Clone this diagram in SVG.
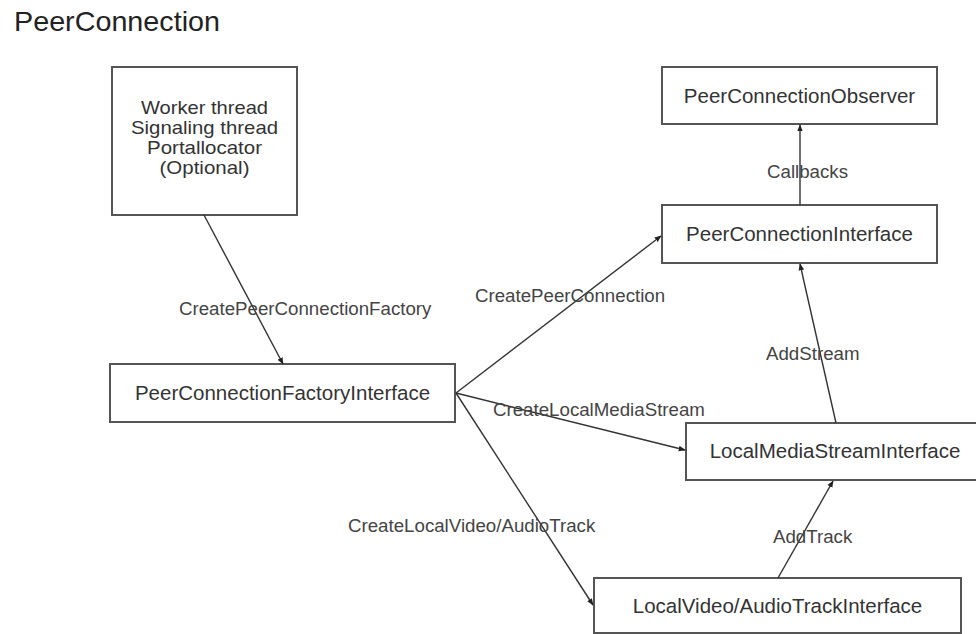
<svg xmlns="http://www.w3.org/2000/svg" width="976" height="634" viewBox="0 0 976 634">
  <defs>
    <marker id="arrow" viewBox="0 0 10 10" refX="9" refY="5" markerWidth="7" markerHeight="7" markerUnits="userSpaceOnUse" orient="auto">
      <path d="M0,1 L10,5 L0,9 Z" fill="#222"/>
    </marker>
    <style>
      .box { fill: #fff; stroke: #555; stroke-width: 2; }
      .node-text { font-family: "Liberation Sans", Arial, sans-serif; font-size: 20.5px; fill: #333; text-anchor: middle; }
      .multi { font-size: 17.8px; }
      .edge { fill: none; stroke: #333; stroke-width: 1.4; marker-end: url(#arrow); }
      .edge-label { font-family: "Liberation Sans", Arial, sans-serif; font-size: 18.7px; fill: #444; }
      .title { font-family: "Liberation Sans", Arial, sans-serif; font-size: 28px; fill: #222; }
    </style>
  </defs>

  <rect width="976" height="634" fill="#fff"/>

  <text class="title" x="14" y="31" textLength="206" lengthAdjust="spacingAndGlyphs">PeerConnection</text>

  <!-- nodes -->
  <g id="threads">
    <rect class="box" x="112" y="67" width="185" height="148"/>
    <text class="node-text multi" x="204.5" y="114" textLength="127" lengthAdjust="spacingAndGlyphs">Worker thread</text>
    <text class="node-text multi" x="204.5" y="134" textLength="147" lengthAdjust="spacingAndGlyphs">Signaling thread</text>
    <text class="node-text multi" x="204.5" y="154" textLength="115" lengthAdjust="spacingAndGlyphs">Portallocator</text>
    <text class="node-text multi" x="204.5" y="174" textLength="90" lengthAdjust="spacingAndGlyphs">(Optional)</text>
  </g>

  <g id="factory">
    <rect class="box" x="110" y="364" width="345" height="58"/>
    <text class="node-text" x="282.5" y="400">PeerConnectionFactoryInterface</text>
  </g>

  <g id="observer">
    <rect class="box" x="662" y="67" width="275" height="57"/>
    <text class="node-text" x="799.5" y="103">PeerConnectionObserver</text>
  </g>

  <g id="peerconnection">
    <rect class="box" x="662" y="205" width="275" height="58"/>
    <text class="node-text" x="799.5" y="241">PeerConnectionInterface</text>
  </g>

  <g id="mediastream">
    <rect class="box" x="686" y="423" width="310" height="57"/>
    <text class="node-text" x="835" y="458">LocalMediaStreamInterface</text>
  </g>

  <g id="track">
    <rect class="box" x="594" y="578" width="367" height="55"/>
    <text class="node-text" x="777.5" y="612.5">LocalVideo/AudioTrackInterface</text>
  </g>

  <!-- connectors -->
  <g id="connectors">
    <line class="edge" x1="204" y1="215" x2="283" y2="364"/>
    <line class="edge" x1="456" y1="393" x2="661" y2="236"/>
    <line class="edge" x1="456" y1="393" x2="685" y2="450"/>
    <line class="edge" x1="456" y1="393" x2="593" y2="605"/>
    <line class="edge" x1="800" y1="205" x2="800" y2="125"/>
    <line class="edge" x1="836" y1="423" x2="800" y2="264"/>
    <line class="edge" x1="778" y1="578" x2="833" y2="481"/>

    <text class="edge-label" x="179" y="315">CreatePeerConnectionFactory</text>
    <text class="edge-label" x="475" y="302">CreatePeerConnection</text>
    <text class="edge-label" x="493" y="416">CreateLocalMediaStream</text>
    <text class="edge-label" x="348" y="532">CreateLocalVideo/AudioTrack</text>
    <text class="edge-label" x="767" y="178">Callbacks</text>
    <text class="edge-label" x="766" y="360">AddStream</text>
    <text class="edge-label" x="773" y="543">AddTrack</text>
  </g>
</svg>
